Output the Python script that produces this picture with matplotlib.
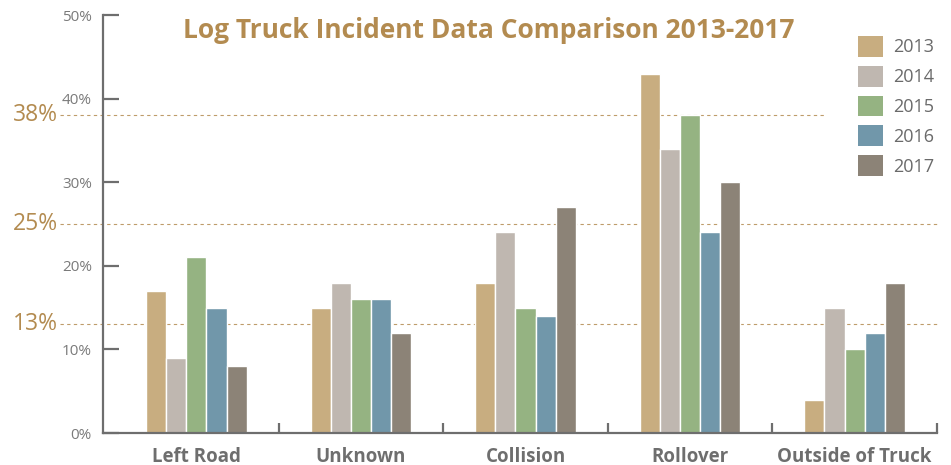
import matplotlib.pyplot as plt
import numpy as np
from matplotlib.patches import Patch
from matplotlib.ticker import FixedLocator

categories = ['Left Road', 'Unknown', 'Collision', 'Rollover', 'Outside of Truck']
years = ['2013', '2014', '2015', '2016', '2017']
values = {
    '2013': [17, 15, 18, 43, 4],
    '2014': [9, 18, 24, 34, 15],
    '2015': [21, 16, 15, 38, 10],
    '2016': [15, 16, 14, 24, 12],
    '2017': [8, 12, 27, 30, 18],
}
colors = ['#C8AD80', '#BFB7B0', '#95B382', '#7197AA', '#8C8377']
ref_lines = [38, 25, 13]
ref_ends = [0.866, 1.004, 1.004]

gold = '#B38B50'
grey = '#6E6E6E'

plt.rcParams['font.family'] = ['Open Sans', 'DejaVu Sans']

fig = plt.figure(figsize=(9.51, 4.65), dpi=100)
ax = fig.add_axes([0.1083, 0.0688, 0.8770, 0.8989])

x = np.arange(len(categories))
slot = 0.1224
for i, yr in enumerate(years):
    ax.bar(x + (i - 2) * slot, values[yr], width=slot, color=colors[i],
           edgecolor='white', linewidth=1.0, zorder=2)

ax.set_xlim(-0.567, 4.5)
ax.set_ylim(0, 50)

for spine in ['top', 'right']:
    ax.spines[spine].set_visible(False)
for spine in ['left', 'bottom']:
    ax.spines[spine].set_color(grey)
    ax.spines[spine].set_linewidth(1.6)

ax.set_yticks(np.arange(0, 51, 10))
ax.set_yticklabels([f'{v}%' for v in range(0, 51, 10)])
ax.tick_params(axis='y', direction='in', length=11.5, width=1.6, color=grey,
               labelcolor='#7A7A7A', labelsize=11, pad=8)

ax.set_xticks(x)
ax.set_xticklabels(categories, fontweight='bold', fontsize=13.5, color=grey)
ax.tick_params(axis='x', length=0, pad=10)
ax.xaxis.set_minor_locator(FixedLocator([0.5, 1.5, 2.5, 3.5, 4.5]))
ax.tick_params(axis='x', which='minor', direction='in', length=7, width=1.6, color=grey)

# reference lines with labels on the left
trans = ax.get_yaxis_transform()
for val, end in zip(ref_lines, ref_ends):
    ax.plot([-0.052, end], [val, val], transform=trans, color=gold, lw=0.8,
            ls=(0, (3, 3)), alpha=0.85, clip_on=False, zorder=1)
    ax.text(-0.081, val, f'{val}%', transform=trans, color=gold, fontsize=16.5,
            ha='center', va='center')

fig.text(0.514, 0.935, 'Log Truck Incident Data Comparison 2013-2017',
         color=gold, fontsize=19, fontweight='bold', ha='center', va='center')

handles = [Patch(facecolor=c, edgecolor='none') for c in colors]
leg = fig.legend(handles, years, loc='upper left', bbox_to_anchor=(0.885, 0.958),
                 frameon=False, fontsize=13, handlelength=1.4, handleheight=1.4,
                 labelspacing=0.5, handletextpad=0.55)
for t in leg.get_texts():
    t.set_color('#6A6A6A')

fig.savefig('out.png', dpi=100)
